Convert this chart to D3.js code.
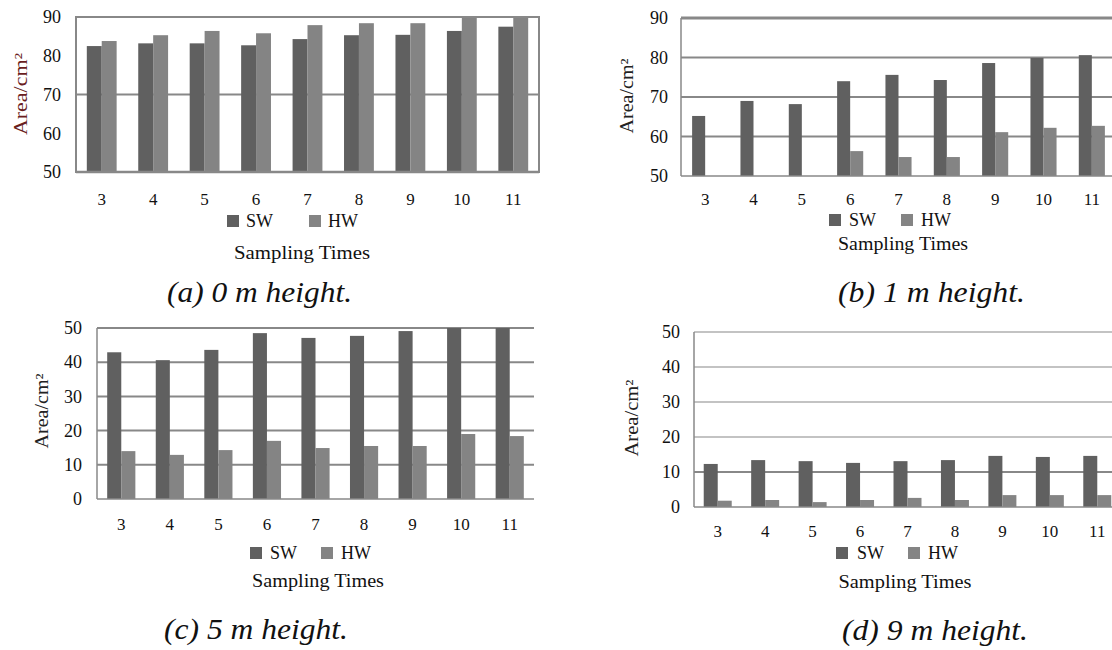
<!DOCTYPE html>
<html>
<head>
<meta charset="utf-8">
<script src="https://cdn.jsdelivr.net/npm/d3@7"></script>
<style>
  body { margin: 0; background: #fff; }
  svg { display: block; }
  svg text { font-family: "Liberation Serif", "Times New Roman", serif; }
</style>
</head>
<body>
<svg width="1112" height="650"></svg>
<script>
// sampling times on the x axis
var times = ["3", "4", "5", "6", "7", "8", "9", "10", "11"];
var series = ["SW", "HW"];

// area (cm2) per height
var sw0 = [82.5, 83.2, 83.2, 82.7, 84.3, 85.3, 85.4, 86.4, 87.5];
var hw0 = [83.8, 85.3, 86.4, 85.8, 87.9, 88.4, 88.4, 90.5, 90.5];
var sw1 = [65.2, 69.0, 68.2, 74.0, 75.6, 74.3, 78.6, 79.9, 80.6];
var hw1 = [null, null, null, 56.3, 54.8, 54.8, 61.1, 62.2, 62.7];
var sw5 = [42.9, 40.6, 43.6, 48.5, 47.1, 47.7, 49.1, 50.5, 50.5];
var hw5 = [14.0, 12.9, 14.3, 17.0, 14.9, 15.5, 15.5, 19.0, 18.4];
var sw9 = [12.3, 13.4, 13.1, 12.6, 13.1, 13.4, 14.6, 14.3, 14.6];
var hw9 = [1.8, 2.0, 1.4, 2.0, 2.6, 2.0, 3.4, 3.4, 3.4];

var ticksHigh = [50, 60, 70, 80, 90];
var ticksLow = [0, 10, 20, 30, 40, 50];
var captions = ["(a) 0 m height.", "(b) 1 m height.", "(c) 5 m height.", "(d) 9 m height."];

var colors = {SW: "#606060", HW: "#848484"};
var FONT = "'Liberation Serif', 'Times New Roman', serif";

var svg = d3.select("svg");

// layout of each sub chart
var panels = [
  {sw: sw0, hw: hw0, domain: [50, 90], ticks: ticksHigh, grid: [70], frame: true,
   left: 76, right: 539, lineEnd: 539, top: 17, bottom: 172, pad: 0.42, tickX: 61,
   xTickY: 205, legY: 227, sq: [227, 309], tx: [246, 328], stX: 302, stY: 259, stW: 136,
   yl: {x: 21, y: 94, len: 82, color: "#6a1e1e"}, cap: {x: 167, w: 185, y: 302}},
  {sw: sw1, hw: hw1, domain: [50, 90], ticks: ticksHigh, grid: [60, 70, 80, 90],
   left: 681, right: 1116, lineEnd: 1112, top: 18, bottom: 176, pad: 0.46, tickX: 668,
   xTickY: 205, legY: 226, sq: [829, 901], tx: [849, 921], stX: 903, stY: 250, stW: 130,
   yl: {x: 627, y: 96, len: 75, color: "#222"}, cap: {x: 838, w: 187, y: 302}},
  {sw: sw5, hw: hw5, domain: [0, 50], ticks: ticksLow, grid: [10, 20, 30, 40, 50],
   left: 97, right: 534, lineEnd: 534, top: 328, bottom: 499, pad: 0.42, tickX: 82,
   xTickY: 530, legY: 559, sq: [250, 321], tx: [270, 341], stX: 318, stY: 587, stW: 132,
   yl: {x: 42, y: 411, len: 75, color: "#222"}, cap: {x: 164, w: 184, y: 639}},
  {sw: sw9, hw: hw9, domain: [0, 50], ticks: ticksLow, grid: [10, 20, 30, 40, 50],
   left: 694, right: 1121, lineEnd: 1112, top: 332, bottom: 507, pad: 0.41, tickX: 680,
   xTickY: 537, legY: 559, sq: [836, 908], tx: [857, 928], stX: 905, stY: 588, stW: 133,
   yl: {x: 632, y: 418, len: 77, color: "#222"}, cap: {x: 842, w: 186, y: 640}}
];

panels.forEach(function(p, k) {
  var g = svg.append("g");

  var y = d3.scaleLinear().domain(p.domain).range([p.bottom, p.top]);
  var x0 = d3.scaleBand().domain(times).range([p.left, p.right])
      .paddingInner(p.pad).paddingOuter(p.pad / 2);
  var x1 = d3.scaleBand().domain(series).range([0, x0.bandwidth()]);

  var rows = times.map(function(t, i) {
    return {time: t, SW: p.sw[i], HW: p.hw[i]};
  });

  // clip so bars above the top of the axis are cut off
  g.append("clipPath").attr("id", "clip" + k)
    .append("rect")
    .attr("x", p.left).attr("y", p.top)
    .attr("width", p.right - p.left).attr("height", p.bottom - p.top);

  // grid lines
  g.selectAll(".grid").data(p.grid).enter()
    .append("line")
    .attr("x1", p.left).attr("x2", p.lineEnd)
    .attr("y1", function(d) { return y(d); })
    .attr("y2", function(d) { return y(d); })
    .attr("stroke", "#888")
    .attr("stroke-width", function(d) {
      if (k == 1 && d == 90) return 3;
      if (k == 3 && d != 10) return 1.2;
      return 2;
    });

  // bars
  g.append("g").attr("clip-path", "url(#clip" + k + ")")
    .selectAll("g").data(rows).enter()
    .append("g")
    .attr("transform", function(d) { return "translate(" + x0(d.time) + ",0)"; })
    .selectAll("rect")
    .data(function(d) {
      return series.map(function(s) { return {key: s, value: d[s]}; })
        .filter(function(e) { return e.value != null; });
    })
    .enter().append("rect")
    .attr("x", function(d) { return x1(d.key); })
    .attr("width", x1.bandwidth())
    .attr("y", function(d) { return y(d.value); })
    .attr("height", function(d) { return p.bottom - y(d.value); })
    .attr("fill", function(d) { return colors[d.key]; });

  // axis frame
  g.append("line")
    .attr("x1", p.left).attr("x2", p.left)
    .attr("y1", p.top).attr("y2", p.bottom)
    .attr("stroke", "#888").attr("stroke-width", p.frame ? 2 : 1.5);
  g.append("line")
    .attr("x1", p.left).attr("x2", p.lineEnd)
    .attr("y1", p.bottom).attr("y2", p.bottom)
    .attr("stroke", "#888").attr("stroke-width", p.frame ? 2.5 : 1.5);
  if (p.frame) {
    g.append("rect")
      .attr("x", p.left).attr("y", p.top)
      .attr("width", p.right - p.left).attr("height", p.bottom - p.top)
      .attr("fill", "none").attr("stroke", "#888").attr("stroke-width", 2);
  }

  // y tick labels
  var yAxis = d3.axisLeft(y).tickValues(p.ticks).tickSize(0).tickPadding(0);
  var ya = g.append("g")
    .attr("transform", "translate(" + p.tickX + ",0)")
    .call(yAxis)
    .attr("font-family", FONT)
    .attr("font-size", 18);
  ya.select(".domain").remove();
  ya.selectAll("text").attr("fill", "#111");

  // x tick labels
  g.selectAll(".xt").data(times).enter()
    .append("text")
    .attr("x", function(d) { return x0(d) + x0.bandwidth() / 2; })
    .attr("y", p.xTickY)
    .attr("text-anchor", "middle")
    .attr("font-family", FONT)
    .attr("font-size", 17)
    .attr("fill", "#111")
    .text(function(d) { return d; });

  // legend
  series.forEach(function(s, i) {
    g.append("rect")
      .attr("x", p.sq[i]).attr("y", p.legY - 12)
      .attr("width", 12).attr("height", 12)
      .attr("fill", colors[s]);
    g.append("text")
      .attr("x", p.tx[i]).attr("y", p.legY)
      .attr("font-family", FONT)
      .attr("font-size", 18)
      .attr("fill", "#111")
      .text(s);
  });

  // x axis title
  g.append("text")
    .attr("x", p.stX).attr("y", p.stY)
    .attr("text-anchor", "middle")
    .attr("textLength", p.stW).attr("lengthAdjust", "spacingAndGlyphs")
    .attr("font-family", FONT)
    .attr("font-size", 19)
    .attr("fill", "#111")
    .text("Sampling Times");

  // y axis title
  g.append("text")
    .attr("transform", "translate(" + p.yl.x + "," + p.yl.y + ") rotate(-90)")
    .attr("text-anchor", "middle")
    .attr("dominant-baseline", "central")
    .attr("textLength", p.yl.len).attr("lengthAdjust", "spacingAndGlyphs")
    .attr("font-family", FONT)
    .attr("font-size", 18)
    .attr("fill", p.yl.color)
    .text("Area/cm\u00b2");

  // caption
  g.append("text")
    .attr("x", p.cap.x).attr("y", p.cap.y)
    .attr("textLength", p.cap.w).attr("lengthAdjust", "spacingAndGlyphs")
    .attr("font-family", FONT)
    .attr("font-size", 29)
    .attr("font-style", "italic")
    .attr("fill", "#111")
    .text(captions[k]);
});
</script>
</body>
</html>
